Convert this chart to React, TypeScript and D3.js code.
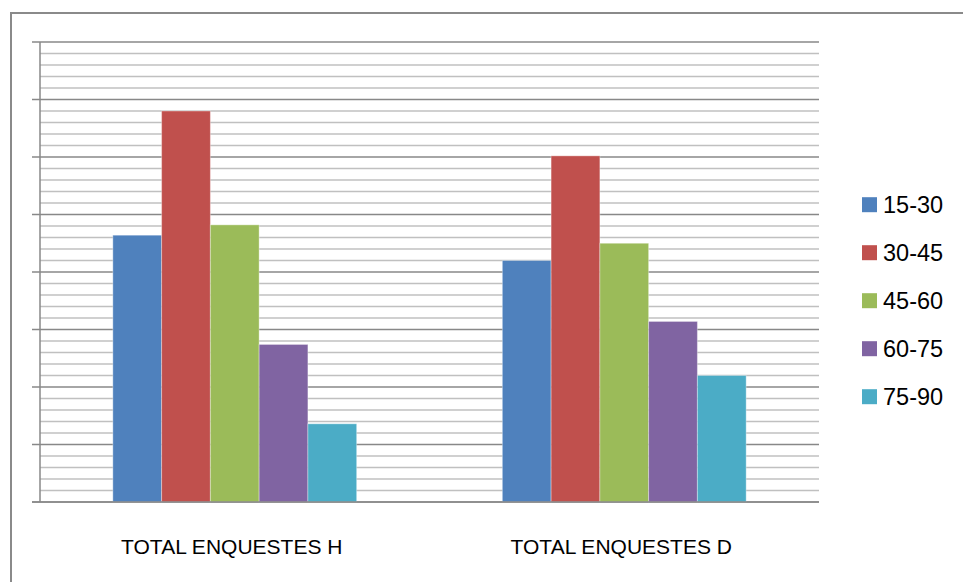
import { scaleBand, scaleLinear, range } from "d3";

const categories = ["TOTAL ENQUESTES H", "TOTAL ENQUESTES D"];
const series = ["15-30", "30-45", "45-60", "60-75", "75-90"];
const colors = ["#4F81BD", "#C0504D", "#9BBB59", "#8064A2", "#4BACC6"];
// one array per category, in series order
const valuesH = [23.2, 34.0, 24.1, 13.7, 6.8];
const valuesD = [21.0, 30.1, 22.5, 15.7, 11.0];
const values = [valuesH, valuesD];
const yMax = 40;
const majorStep = 5;

const W = 963;
const H = 582;
const plot = { left: 40, right: 819, top: 42, bottom: 502 };
const font = "'Liberation Sans', Arial, sans-serif";

function App() {
  const x0 = scaleBand().domain(categories).range([plot.left, plot.right]);
  const step = x0.bandwidth();
  const inset = step * 0.187;
  const x1 = scaleBand().domain(series).range([inset, step - inset]);
  const y = scaleLinear().domain([0, yMax]).range([plot.bottom, plot.top]);

  const minor = range(0, yMax + 1, 1).filter((v) => v % majorStep !== 0);
  const major = range(0, yMax + 1, majorStep);

  return (
    <svg
      width={W}
      height={H}
      style={{ position: "absolute", left: 0, top: 0, background: "#fff" }}
    >
      <rect x={0} y={0} width={W} height={H} fill="#fff" />
      <rect
        x={11}
        y={13}
        width={W + 20}
        height={H + 20}
        fill="none"
        stroke="#8a8a8a"
        strokeWidth={2}
      />

      {/* minor gridlines */}
      {minor.map((v) => (
        <line
          key={"m" + v}
          x1={plot.left}
          x2={plot.right}
          y1={y(v)}
          y2={y(v)}
          stroke="#c0c0c0"
          strokeWidth={1.5}
        />
      ))}
      {/* major gridlines + ticks */}
      {major.map((v) => (
        <line
          key={"M" + v}
          x1={plot.left - 8}
          x2={plot.right}
          y1={y(v)}
          y2={y(v)}
          stroke="#888"
          strokeWidth={1.5}
        />
      ))}
      <line
        x1={plot.left}
        x2={plot.left}
        y1={plot.top}
        y2={plot.bottom}
        stroke="#888"
        strokeWidth={1.5}
      />

      {/* bars */}
      {categories.map((c, ci) => (
        <g key={c} transform={`translate(${x0(c)},0)`}>
          {series.map((s, si) => (
            <rect
              key={s}
              x={x1(s)}
              y={y(values[ci][si])}
              width={x1.bandwidth()}
              height={y(0) - y(values[ci][si])}
              fill={colors[si]}
              stroke="rgba(255,255,255,0.35)"
              strokeWidth={1}
            />
          ))}
        </g>
      ))}

      <line
        x1={plot.left - 8}
        x2={plot.right}
        y1={plot.bottom}
        y2={plot.bottom}
        stroke="#888"
        strokeWidth={1.5}
      />

      {/* category labels */}
      {categories.map((c) => (
        <text
          key={c}
          x={(x0(c) as number) + step / 2 - 3}
          y={554}
          textAnchor="middle"
          fontFamily={font}
          fontSize={21}
          fill="#000"
        >
          {c}
        </text>
      ))}

      {/* legend */}
      {series.map((s, i) => (
        <g key={s} transform={`translate(862,${204.7 + i * 48})`}>
          <rect x={0} y={-7.5} width={15} height={15} fill={colors[i]} />
          <text
            x={21}
            y={8}
            fontFamily={font}
            fontSize={23.5}
            fill="#000"
          >
            {s}
          </text>
        </g>
      ))}
    </svg>
  );
}

export default App;
